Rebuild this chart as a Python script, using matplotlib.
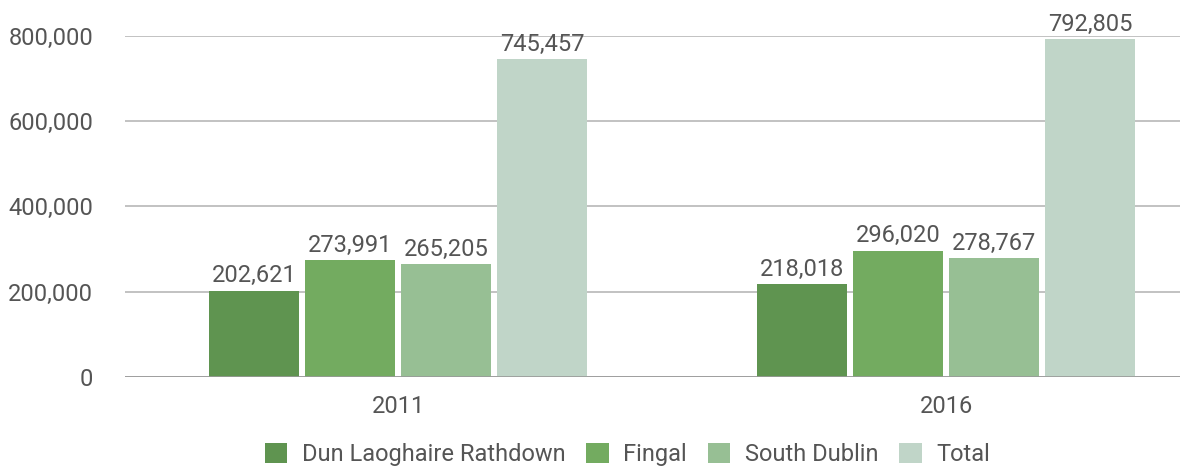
import matplotlib
matplotlib.use("Agg")
import matplotlib.pyplot as plt
import numpy as np
from matplotlib.ticker import FuncFormatter

years = ["2011", "2016"]
series = ["Dun Laoghaire Rathdown", "Fingal", "South Dublin", "Total"]
dun_laoghaire = [202621, 218018]
fingal = [273991, 296020]
south_dublin = [265205, 278767]
total = [745457, 792805]
colors = ["#5f9450", "#73ab60", "#97bf94", "#c0d5c8"]

TEXT = "#555555"
FS = 17


def main():
    '''bar chart of Dublin county populations'''
    plt.rcParams["font.family"] = ["Roboto", "DejaVu Sans"]
    fig = plt.figure(figsize=(12.03, 4.66), dpi=100)
    ax = fig.add_axes([0.104, 0.191, 0.877, 0.732])

    x = np.arange(len(years))
    width = 0.164
    pitch = 0.175
    values = [dun_laoghaire, fingal, south_dublin, total]
    for i, (name, vals) in enumerate(zip(series, values)):
        offs = (i - 1.5) * pitch
        bars = ax.bar(x + offs, vals, width, color=colors[i], label=name,
                      zorder=3)
        for b, v in zip(bars, vals):
            ax.text(b.get_x() + b.get_width() / 2, v + 8000, f"{v:,}",
                    ha="center", va="bottom", fontsize=FS, color=TEXT,
                    clip_on=False)

    ax.set_xlim(-0.498, 1.427)
    ax.set_ylim(0, 800000)
    ax.set_yticks(range(0, 800001, 200000))
    ax.yaxis.set_major_formatter(FuncFormatter(lambda v, p: f"{int(v):,}"))
    ax.set_xticks(x)
    ax.set_xticklabels(years)
    ax.grid(axis="y", color="#b7b7b7", linewidth=1.2, zorder=0)
    for s in ax.spines.values():
        s.set_visible(False)
    ax.axhline(0, color="#999999", linewidth=1.2, zorder=4)
    ax.tick_params(axis="both", length=0, labelsize=FS, labelcolor=TEXT)
    ax.tick_params(axis="y", pad=23)
    ax.tick_params(axis="x", pad=13)

    ax.legend(loc="center", bbox_to_anchor=(0.476, -0.228), ncol=4,
              frameon=False, fontsize=FS, labelcolor=TEXT,
              handlelength=0.95, handleheight=0.95, columnspacing=0.9,
              handletextpad=0.6, borderaxespad=0)
    fig.savefig("out.png", dpi=100)


if __name__ == '__main__':
    main()
